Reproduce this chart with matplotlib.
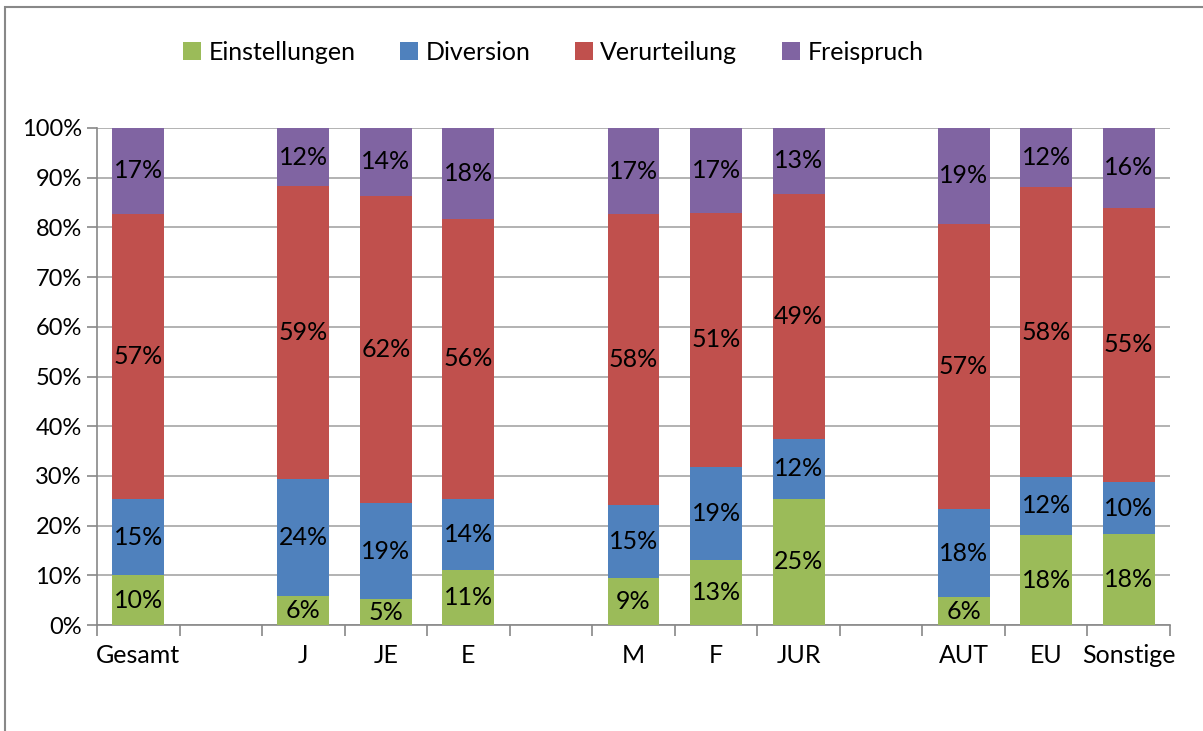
import numpy as np
import matplotlib.pyplot as plt
from matplotlib.patches import Rectangle

plt.rcParams["font.family"] = ["Lato", "DejaVu Sans"]

categories = ["Gesamt", "", "J", "JE", "E", "", "M", "F", "JUR", "", "AUT", "EU", "Sonstige"]

einstellungen = [10.0, 0, 5.8, 5.2, 11.1, 0, 9.4, 13.1, 25.4, 0, 5.6, 18.1, 18.3]
diversion = [15.4, 0, 23.6, 19.3, 14.3, 0, 14.8, 18.7, 12.0, 0, 17.7, 11.7, 10.4]
verurteilung = [57.3, 0, 58.9, 61.9, 56.3, 0, 58.4, 51.1, 49.4, 0, 57.4, 58.3, 55.3]
freispruch = [17.3, 0, 11.7, 13.6, 18.3, 0, 17.4, 17.1, 13.2, 0, 19.3, 11.9, 16.0]

series = [
    ("Einstellungen", einstellungen, "#9BBB59"),
    ("Diversion", diversion, "#4F81BD"),
    ("Verurteilung", verurteilung, "#C0504D"),
    ("Freispruch", freispruch, "#8064A2"),
]

fig = plt.figure(figsize=(12.03, 7.31), dpi=100)
ax = fig.add_axes([97 / 1203, 106 / 731, 1073 / 1203, 497 / 731])

x = np.arange(len(categories))
bottom = np.zeros(len(categories))
for name, vals, color in series:
    vals = np.array(vals)
    ax.bar(x, vals, 0.63, bottom=bottom, color=color, label=name, zorder=3)
    for xi, v, b in zip(x, vals, bottom):
        if v > 0:
            ax.text(xi, b + v / 2, f"{v:.0f}%", ha="center", va="center",
                    fontsize=18, color="black", zorder=4)
    bottom += vals

ax.set_xlim(-0.5, len(categories) - 0.5)
ax.set_ylim(0, 100)
ax.set_yticks(np.arange(0, 101, 10))
ax.set_yticklabels([f"{t}%" for t in range(0, 101, 10)], fontsize=17)
ax.yaxis.grid(True, color="#A6A6A6", linewidth=1.2, zorder=0)

ax.set_xticks(np.arange(-0.5, len(categories), 1))
ax.set_xticklabels([])
ax.set_xticks(x, minor=True)
ax.set_xticklabels(categories, minor=True, fontsize=18)
ax.tick_params(axis="x", which="minor", length=0, pad=14)
ax.tick_params(axis="x", which="major", length=8, color="#888888", width=1.2)
ax.tick_params(axis="y", length=7, color="#888888", width=1.2, pad=4)

for s in ["top", "right"]:
    ax.spines[s].set_visible(False)
for s in ["left", "bottom"]:
    ax.spines[s].set_color("#888888")
    ax.spines[s].set_linewidth(1.2)

fig.legend(loc="upper center", bbox_to_anchor=(0.46, 0.975), ncol=4, frameon=False,
           fontsize=18, handlelength=0.7, handleheight=0.7, handletextpad=0.3,
           columnspacing=1.8)

fig.patches.append(Rectangle((5 / 1203, -0.1), 1.2, (731 - 7) / 731 + 0.1,
                             transform=fig.transFigure, fill=False,
                             edgecolor="#888888", linewidth=1.5))

fig.savefig("out.png", dpi=100)
